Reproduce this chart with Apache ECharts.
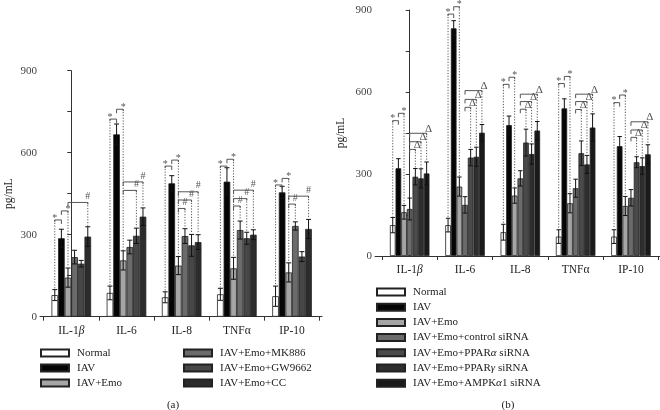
<!DOCTYPE html>
<html><head><meta charset="utf-8">
<script src="https://cdn.jsdelivr.net/npm/echarts@6/dist/echarts.min.js"></script>
<style>html,body{margin:0;padding:0;background:#fff}#c{width:660px;height:410px}</style>
</head><body><div id="c"></div>
<script>
const categories = ['IL-1β','IL-6','IL-8','TNFα','IP-10'];
const yTicks = [0,300,600,900];

// Panel (a)
const namesA = ['Normal','IAV','IAV+Emo','IAV+Emo+MK886','IAV+Emo+GW9662','IAV+Emo+CC'];
const a_normal = [79, 87, 71, 82, 75];
const a_iav    = [287, 667, 488, 494, 455];
const a_emo    = [143, 206, 187, 177, 162];
const a_mk886  = [218, 255, 295, 317, 332];
const a_gw9662 = [194, 296, 261, 287, 220];
const a_cc     = [293, 366, 273, 300, 321];
const a_normal_err = [20, 25, 20, 22, 37];
const a_iav_err    = [33, 38, 28, 51, 22];
const a_emo_err    = [35, 35, 33, 40, 35];
const a_mk886_err  = [25, 25, 27, 33, 15];
const a_gw9662_err = [12, 28, 40, 22, 18];
const a_cc_err     = [36, 32, 27, 18, 35];
// [category, fromBar, toBar, height, label, dotted end]
const a_brackets = [
  [0,0,1,354,'*','L'],[0,1,2,387,'*','R'],[0,2,5,418,'#','R'],
  [1,0,1,723,'*','L'],[1,1,2,759,'*','R'],[1,2,4,462,'#','R'],[1,2,5,493,'#','R'],
  [2,0,1,551,'*','L'],[2,1,2,573,'*','R'],[2,2,3,396,'#','R'],[2,2,4,427,'#','R'],[2,2,5,457,'#','R'],
  [3,0,1,551,'*','L'],[3,1,2,576,'*','R'],[3,2,3,405,'#','R'],[3,2,4,432,'#','R'],[3,2,5,463,'#','R'],
  [4,0,1,482,'*','L'],[4,1,2,506,'*','R'],[4,2,3,412,'#','R'],[4,2,5,441,'#','R']
];

// Panel (b)
const namesB = ['Normal','IAV','IAV+Emo','IAV+Emo+control siRNA','IAV+Emo+PPARα siRNA','IAV+Emo+PPARγ siRNA','IAV+Emo+AMPKα1 siRNA'];
const b_normal = [113, 113, 87, 71, 71];
const b_iav    = [321, 833, 479, 540, 402];
const b_emo    = [160, 254, 221, 193, 183];
const b_ctrl   = [172, 187, 284, 248, 213];
const b_ppara  = [290, 360, 415, 376, 343];
const b_pparg  = [284, 363, 373, 335, 329];
const b_ampk   = [302, 451, 459, 470, 372];
const b_normal_err = [28, 25, 29, 25, 25];
const b_iav_err    = [35, 28, 33, 35, 35];
const b_emo_err    = [25, 35, 28, 35, 35];
const b_ctrl_err   = [40, 30, 28, 33, 30];
const b_ppara_err  = [30, 30, 49, 45, 20];
const b_pparg_err  = [35, 35, 37, 33, 30];
const b_ampk_err   = [42, 30, 33, 50, 35];
const b_brackets = [
  [0,0,1,495,'*','L'],[0,1,2,522,'*','R'],[0,3,4,390,'Δ','R'],[0,3,5,418,'Δ','R'],[0,3,6,449,'Δ','R'],
  [1,0,1,885,'*','L'],[1,1,2,912,'*','R'],[1,3,4,544,'Δ','R'],[1,3,5,573,'Δ','R'],[1,3,6,605,'Δ','R'],
  [2,0,1,628,'*','L'],[2,1,2,654,'*','R'],[2,3,4,537,'Δ','R'],[2,3,5,565,'Δ','R'],[2,3,6,592,'Δ','R'],
  [3,0,1,631,'*','L'],[3,1,2,657,'*','R'],[3,3,4,536,'Δ','R'],[3,3,5,565,'Δ','R'],[3,3,6,592,'Δ','R'],
  [4,0,1,561,'*','L'],[4,1,2,589,'*','R'],[4,3,4,434,'Δ','R'],[4,3,5,461,'Δ','R'],[4,3,6,491,'Δ','R']
];

const colorsA = ['#ffffff','#050505','#a5a5a5','#6b6b6b','#474747','#2c2c2c'];
const colorsB = ['#ffffff','#050505','#a5a5a5','#6b6b6b','#4a4a4a','#2e2e2e','#1a1a1a'];

const FONT = 'Liberation Serif';
const valsA = [a_normal,a_iav,a_emo,a_mk886,a_gw9662,a_cc];
const errsA = [a_normal_err,a_iav_err,a_emo_err,a_mk886_err,a_gw9662_err,a_cc_err];
const valsB = [b_normal,b_iav,b_emo,b_ctrl,b_ppara,b_pparg,b_ampk];
const errsB = [b_normal_err,b_iav_err,b_emo_err,b_ctrl_err,b_ppara_err,b_pparg_err,b_ampk_err];
const BW_A = 6.6, BW_B = 5.65;

function catFmt(v){
  const n = categories[Math.round(v)];
  if (n === 'IL-1β') return '{n|IL-1}{i|β}';
  return '{n|' + n + '}';
}
function xAxisCfg(grid, min, max){
  return {
    type:'value', gridIndex:grid, min:min, max:max,
    axisLine:{show:true, lineStyle:{color:'#333', width:1}},
    axisTick:{show:true, length:4, lineStyle:{color:'#333'}, customValues:[-0.5,0.5,1.5,2.5,3.5,4.5]},
    axisLabel:{customValues:[0,1,2,3,4], formatter:catFmt, margin:8,
      rich:{n:{fontFamily:FONT, fontSize:11.5, color:'#222'}, i:{fontFamily:FONT, fontSize:11.5, fontStyle:'italic', color:'#222'}}},
    splitLine:{show:false}
  };
}
function yAxisCfg(grid, gap){
  return {
    type:'value', gridIndex:grid, min:yTicks[0], max:yTicks[yTicks.length-1], interval:300,
    name:'pg/mL', nameLocation:'middle', nameGap:gap,
    nameTextStyle:{fontFamily:FONT, fontSize:11.5, color:'#222'},
    axisLine:{show:true, lineStyle:{color:'#333', width:1}},
    axisTick:{show:true, length:4, lineStyle:{color:'#333'}},
    minorTick:{show:true, splitNumber:2, length:4, lineStyle:{color:'#333'}},
    axisLabel:{fontFamily:FONT, fontSize:11, color:'#444', margin:3},
    splitLine:{show:false}
  };
}

function barSeries(names, vals, colors, axisIdx, bw){
  return names.map((nm, k) => ({
    type:'bar', name:nm, xAxisIndex:axisIdx, yAxisIndex:axisIdx,
    barWidth:bw, barGap:'0%',
    itemStyle:{color:colors[k], borderColor:'#222', borderWidth:0.8},
    data: vals[k].map((v, c) => [c, v]),
    z:2
  }));
}

function errSeries(vals, errs, axisIdx, bw, capW){
  const n = vals.length;
  const data = [];
  vals.forEach((arr, k) => arr.forEach((v, c) => data.push([c, v, errs[k][c], k])));
  return {
    type:'custom', xAxisIndex:axisIdx, yAxisIndex:axisIdx, z:5, silent:true,
    encode:{x:0, y:1},
    data:data,
    renderItem:function(params, api){
      const c = api.value(0), v = api.value(1), e = api.value(2), k = api.value(3);
      const off = (k - (n-1)/2) * bw;
      const top = api.coord([c, v + e]), bot = api.coord([c, v - e]);
      const x = top[0] + off;
      const st = {stroke:'#111', lineWidth:1};
      return {type:'group', children:[
        {type:'line', shape:{x1:x, y1:top[1], x2:x, y2:bot[1]}, style:st},
        {type:'line', shape:{x1:x-capW/2, y1:top[1], x2:x+capW/2, y2:top[1]}, style:st},
        {type:'line', shape:{x1:x-capW/2, y1:bot[1], x2:x+capW/2, y2:bot[1]}, style:st}
      ]};
    }
  };
}

function bracketSeries(brs, vals, errs, axisIdx, bw){
  const n = vals.length;
  return {
    type:'custom', xAxisIndex:axisIdx, yAxisIndex:axisIdx, z:6, silent:true, clip:false,
    encode:{x:0, y:1},
    data: brs.map(b => [b[0], b[3]]),
    renderItem:function(params, api){
      const b = brs[params.dataIndex];
      const cat = b[0], i = b[1], j = b[2], lab = b[4], side = b[5];
      const p = api.coord([cat, b[3]]);
      const xi = p[0] + (i - (n-1)/2) * bw, xj = p[0] + (j - (n-1)/2) * bw;
      const y = p[1];
      const d = side === 'L' ? i : j;
      const topY = api.coord([cat, vals[d][cat] + errs[d][cat]])[1];
      const xd = side === 'L' ? xi : xj, xs = side === 'L' ? xj : xi;
      const col = '#555';
      const children = [
        {type:'polyline', shape:{points:[[xs, y+4],[xs, y],[xd, y],[xd, y+2]]}, style:{stroke:col, lineWidth:1, fill:null}},
        {type:'line', shape:{x1:xd, y1:y, x2:xd, y2:topY-1}, style:{stroke:col, lineWidth:1, lineDash:[1.2,1.6]}}
      ];
      let tx = xd, ty = y - 1;
      if (lab === 'Δ') { tx = xd + 2; ty = y + 1; }
      if (lab === '*') { ty = y + 3; }
      children.push({type:'text', style:{text:lab, x:tx, y:ty, align:'center', verticalAlign:'bottom',
        fontFamily:FONT, fontSize: lab === 'Δ' ? 11 : 10, fill:col}});
      return {type:'group', children:children};
    }
  };
}

function legendFmt(name){
  const m = name.match(/^(.*?)([αγ])(.*)$/);
  if (m) return '{n|' + m[1] + '}{i|' + m[2] + '}{n|' + m[3] + '}';
  return '{n|' + name + '}';
}
function legendCfg(data, left, top, gap){
  return {
    data:data, left:left, top:top, orient:'vertical', padding:0,
    itemWidth:28, itemHeight:7, itemGap:gap, selectedMode:false, icon:'rect',
    formatter:legendFmt,
    textStyle:{padding:[0,0,0,3], lineHeight:12,
      rich:{n:{fontFamily:FONT, fontSize:11, color:'#222', lineHeight:12},
            i:{fontFamily:FONT, fontSize:11, fontStyle:'italic', color:'#222', lineHeight:12}}}
  };
}

const chart = echarts.init(document.getElementById('c'), null, {renderer:'canvas'});
chart.setOption({
  backgroundColor:'#fff',
  animation:false,
  title:[
    {text:'(a)', left:168, top:395, textAlign:'center', textStyle:{fontFamily:FONT, fontSize:11, fontWeight:'normal', color:'#222'}},
    {text:'(b)', left:503, top:395, textAlign:'center', textStyle:{fontFamily:FONT, fontSize:11, fontWeight:'normal', color:'#222'}}
  ],
  grid:[
    {left:40, top:70.7, width:282, height:246},
    {left:375, top:10, width:285, height:246}
  ],
  xAxis:[xAxisCfg(0, -0.567, 4.543), xAxisCfg(1, -0.627, 4.525)],
  yAxis:[yAxisCfg(0, 25), yAxisCfg(1, 28)],
  legend:[
    legendCfg(namesA.slice(0,3), 40, 347, 3),
    legendCfg(namesA.slice(3,6), 183, 347, 3),
    legendCfg(namesB, 376, 286, 3.2)
  ],
  series:[].concat(
    barSeries(namesA, valsA, colorsA, 0, BW_A),
    barSeries(namesB, valsB, colorsB, 1, BW_B),
    [errSeries(valsA, errsA, 0, BW_A, 5), errSeries(valsB, errsB, 1, BW_B, 4.5),
     bracketSeries(a_brackets, valsA, errsA, 0, BW_A), bracketSeries(b_brackets, valsB, errsB, 1, BW_B)]
  )
});
</script></body></html>
